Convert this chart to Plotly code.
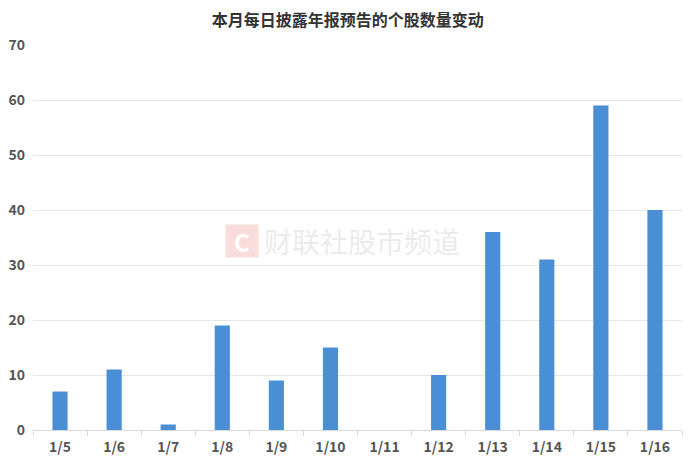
import plotly.graph_objects as go

dates = ["1/5", "1/6", "1/7", "1/8", "1/9", "1/10", "1/11", "1/12", "1/13", "1/14", "1/15", "1/16"]
counts = [7, 11, 1, 19, 9, 15, 0, 10, 36, 31, 59, 40]
title_text = "本月每日披露年报预告的个股数量变动"
watermark_text = "财联社股市频道"

font_family = "Noto Sans CJK SC, Noto Sans, sans-serif"

fig = go.Figure(
    go.Bar(
        x=dates,
        y=counts,
        marker=dict(color="#4a8fd6", line=dict(width=0)),
        width=0.28,
    )
)

fig.update_layout(
    width=692,
    height=464,
    margin=dict(l=25, r=18, t=37, b=42, autoexpand=False),
    paper_bgcolor="white",
    plot_bgcolor="white",
    showlegend=False,
    title=dict(
        text="<b>" + title_text + "</b>",
        x=0.491,
        xanchor="center",
        y=1 - 12 / 464,
        yanchor="middle",
        font=dict(family=font_family, size=16, color="#333333"),
    ),
    font=dict(family=font_family, color="#505050", size=14),
)

fig.update_yaxes(
    range=[0, 70],
    dtick=10,
    showgrid=True,
    gridcolor="#e6e6e6",
    gridwidth=1,
    zeroline=False,
    showline=False,
    ticks="",
    automargin=False,
    tickfont=dict(size=14, color="#555555", weight=600),
    ticklabelstandoff=7,
)

fig.update_xaxes(
    showline=True,
    linecolor="#d9d9d9",
    linewidth=1,
    ticks="outside",
    tickson="boundaries",
    ticklen=5,
    tickcolor="#d9d9d9",
    automargin=False,
    tickfont=dict(size=14, color="#555555", weight=600),
    ticklabelstandoff=4,
    showgrid=False,
)

# watermark
fig.add_annotation(
    x=0.322, y=0.491, xref="paper", yref="paper", showarrow=False,
    text="<b>C</b>", font=dict(size=24, color="white", family=font_family),
    bgcolor="rgba(240,140,140,0.3)", width=32, height=32, borderpad=0,
    xanchor="center", yanchor="middle",
)
fig.add_annotation(
    x=0.507, y=0.491, xref="paper", yref="paper", showarrow=False,
    text=watermark_text, font=dict(size=28, color="rgba(185,185,185,0.3)", family=font_family),
    xanchor="center", yanchor="middle",
)

fig.write_html("out.html")
